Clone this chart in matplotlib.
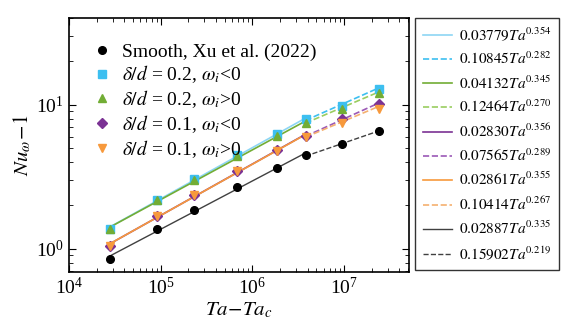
import numpy as np
import matplotlib
matplotlib.use("Agg")
import matplotlib.pyplot as plt

plt.rcParams['font.family'] = ['Liberation Serif', 'DejaVu Serif']
plt.rcParams['mathtext.fontset'] = 'stix'

# Ta - Ta_c
ta = np.array([2.8e4, 9.2e4, 2.3e5, 6.8e5, 1.87e6, 3.8e6, 9.5e6, 2.4e7])

nu_smooth = [0.85, 1.38, 1.86, 2.70, 3.65, 4.45, 5.35, 6.60]
nu_02_neg = [1.38, 2.19, 3.06, 4.50, 6.30, 7.90, 9.80, 12.9]
nu_02_pos = [1.37, 2.17, 3.00, 4.40, 6.10, 7.50, 9.30, 12.0]
nu_01_neg = [1.05, 1.69, 2.37, 3.46, 4.85, 6.10, 7.90, 10.1]
nu_01_pos = [1.04, 1.68, 2.36, 3.45, 4.80, 5.95, 7.40, 9.40]

# fit coefficients (prefactor, exponent): solid = low Ta, dashed = high Ta
fit_02_neg = [(0.03779, 0.354), (0.10845, 0.282)]
fit_02_pos = [(0.04132, 0.345), (0.12464, 0.270)]
fit_01_neg = [(0.02830, 0.356), (0.07565, 0.289)]
fit_01_pos = [(0.02861, 0.355), (0.10414, 0.267)]
fit_smooth = [(0.02887, 0.335), (0.15902, 0.219)]

ta_lo = ta[[0, 5]]
ta_hi = ta[[5, 7]]

fig = plt.figure(figsize=(5.82, 3.30), dpi=100)
ax = fig.add_axes([0.1186, 0.1758, 0.584, 0.770])

series = [
    (nu_02_neg, fit_02_neg, 's', '#3dbff0', '#8dd6f4', '#3dbff0', r'$\delta/d$ = 0.2, $\omega_i$<0'),
    (nu_02_pos, fit_02_pos, '^', '#72ad35', '#72ad35', '#9acd60', r'$\delta/d$ = 0.2, $\omega_i$>0'),
    (nu_01_neg, fit_01_neg, 'D', '#7b3294', '#7b3294', '#9b59b6', r'$\delta/d$ = 0.1, $\omega_i$<0'),
    (nu_01_pos, fit_01_pos, 'v', '#f7993c', '#f7993c', '#f5b070', r'$\delta/d$ = 0.1, $\omega_i$>0'),
]

fit_handles = []
mk_handles = []
h = ax.plot(ta, nu_smooth, 'o', color='black', ms=5.5, zorder=5,
            label='Smooth, Xu et al. (2022)')[0]
mk_handles.append(h)
for nu, fit, m, mc, lc_s, lc_d, lab in series:
    ms = 4.8 if m == 'D' else 5.8
    h = ax.plot(ta, nu, m, color=mc, ms=ms, zorder=5, label=lab)[0]
    mk_handles.append(h)
    (a1, b1), (a2, b2) = fit
    l1 = ax.plot(ta_lo, a1 * ta_lo**b1, '-', color=lc_s, lw=1.2,
                 label=r'$%.5fTa^{%.3f}$' % (a1, b1))[0]
    l2 = ax.plot(ta_hi, a2 * ta_hi**b2, '--', color=lc_d, lw=1.2,
                 label=r'$%.5fTa^{%.3f}$' % (a2, b2))[0]
    fit_handles += [l1, l2]

(a1, b1), (a2, b2) = fit_smooth
l1 = ax.plot(ta_lo, a1 * ta_lo**b1, '-', color='#404040', lw=1.0,
             label=r'$%.5fTa^{%.3f}$' % (a1, b1))[0]
l2 = ax.plot(ta_hi, a2 * ta_hi**b2, '--', color='#404040', lw=1.0,
             label=r'$%.5fTa^{%.3f}$' % (a2, b2))[0]
fit_handles += [l1, l2]

ax.set_xscale('log')
ax.set_yscale('log')
ax.set_xlim(1e4, 5.1e7)
ax.set_ylim(0.69, 40)
ax.tick_params(which='both', direction='in', top=True, right=True, labelsize=14)
ax.tick_params(which='major', length=5)
ax.tick_params(which='minor', length=3)
for s in ax.spines.values():
    s.set_linewidth(1.2)

ax.set_xlabel(r'$Ta\!-\!Ta_c$', fontsize=15, labelpad=2)
ax.set_ylabel(r'$Nu_\omega\!-\!1$', fontsize=15, labelpad=2)

leg1 = ax.legend(handles=mk_handles, loc='upper left', frameon=False, fontsize=14,
                 bbox_to_anchor=(0.0, 0.97), handletextpad=0.2, labelspacing=0.15,
                 handlelength=1.6)
ax.add_artist(leg1)

leg2 = ax.legend(handles=fit_handles, loc='upper left', bbox_to_anchor=(1.018, 1.0),
                 borderaxespad=0, fontsize=11, fancybox=False, edgecolor='black',
                 labelspacing=0.47, handlelength=1.9, handletextpad=0.5, borderpad=0.5)
leg2.get_frame().set_linewidth(1.0)

fig.savefig('out.png', dpi=100)
